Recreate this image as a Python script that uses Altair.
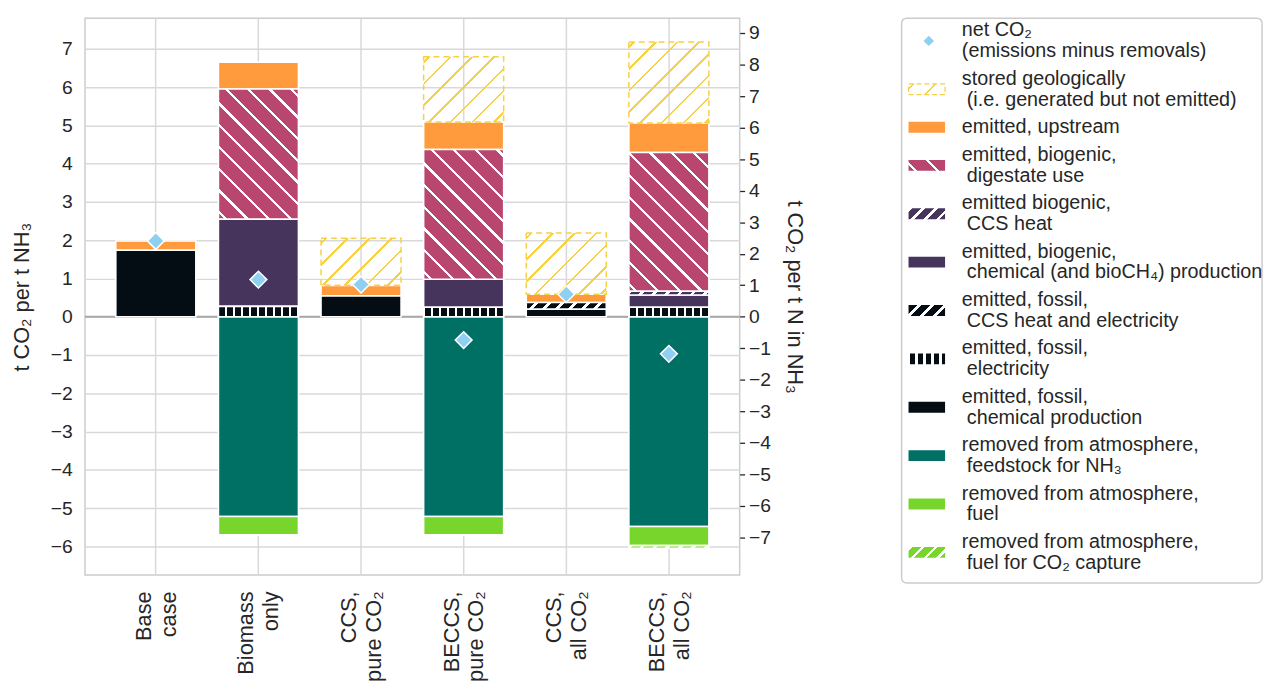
import altair as alt
import pandas as pd

# ---------------- data ----------------
categories = ["Base\ncase", "Biomass\nonly", "CCS,\npure CO₂",
              "BECCS,\npure CO₂", "CCS,\nall CO₂", "BECCS,\nall CO₂"]

fossil_chem = [1.74, 0.00, 0.55, 0.00, 0.20, 0.00]
fossil_elec = [0.00, 0.27, 0.00, 0.25, 0.00, 0.25]
fossil_ccs = [0.00, 0.00, 0.00, 0.00, 0.17, 0.00]
bio_chem = [0.00, 2.28, 0.00, 0.73, 0.00, 0.32]
bio_ccs = [0.00, 0.00, 0.00, 0.00, 0.00, 0.10]
digestate = [0.00, 3.40, 0.00, 3.39, 0.00, 3.62]
upstream = [0.24, 0.70, 0.27, 0.72, 0.22, 0.77]
stored = [0.00, 0.00, 1.23, 1.70, 1.60, 2.12]
feedstock = [0.00, -5.22, 0.00, -5.22, 0.00, -5.48]
fuel = [0.00, -0.48, 0.00, -0.48, 0.00, -0.50]
fuel_capture = [0.00, 0.00, 0.00, 0.00, 0.00, -0.07]
net = [1.98, 0.97, 0.84, -0.61, 0.59, -0.97]

legend_keys = ["net", "stored", "upstream", "digestate", "bio_ccs", "bio_chem",
               "fossil_ccs", "fossil_elec", "fossil_chem", "feedstock", "fuel",
               "fuel_capture"]
legend_first = [
    "net CO₂", "stored geologically", "emitted, upstream", "emitted, biogenic,",
    "emitted biogenic,", "emitted, biogenic,", "emitted, fossil,",
    "emitted, fossil,", "emitted, fossil,", "removed from atmosphere,",
    "removed from atmosphere,", "removed from atmosphere,",
]
legend_second = [
    "(emissions minus removals)", "(i.e. generated but not emitted)", "",
    "digestate use", "CCS heat", "chemical (and bioCH₄) production",
    "CCS heat and electricity", "electricity", "chemical production",
    "feedstock for NH₃", "fuel", "fuel for CO₂ capture",
]

values = {
    "fossil_chem": fossil_chem, "fossil_elec": fossil_elec, "fossil_ccs": fossil_ccs,
    "bio_chem": bio_chem, "bio_ccs": bio_ccs, "digestate": digestate,
    "upstream": upstream, "stored": stored, "feedstock": feedstock,
    "fuel": fuel, "fuel_capture": fuel_capture,
}
pos_order = ["fossil_chem", "fossil_elec", "fossil_ccs", "bio_chem", "bio_ccs",
             "digestate", "upstream", "stored"]
neg_order = ["feedstock", "fuel", "fuel_capture"]

# ---------------- styles ----------------
FONT = "Liberation Sans"
TXT = "#262626"
BLACK = "#040d13"
PURPLE = "#46345d"
PINK = "#b8466e"
ORANGE = "#ff9b3d"
YELLOW = "#f6d146"
TEAL = "#006f64"
GREEN = "#78d52c"
DIAMOND = "#8ecff2"

STYLE = {
    "fossil_chem": {"color": BLACK},
    "fossil_elec": {"pattern": ("v", 8.1, 0.74, BLACK, "white", 1.0)},
    "fossil_ccs": {"pattern": ("/", 13, 0.70, BLACK, "white", 0.0)},
    "bio_chem": {"color": PURPLE},
    "bio_ccs": {"pattern": ("/", 13, 0.28, "white", PURPLE, 0.0)},
    "digestate": {"pattern": ("\\", 22, 0.15, "white", PINK, 6.0)},
    "upstream": {"color": ORANGE},
    "stored": {"pattern": ("/", 22, 0.12, YELLOW, "transparent", 4.0),
               "stroke": YELLOW, "dash": [6, 4]},
    "feedstock": {"color": TEAL},
    "fuel": {"color": GREEN},
    "fuel_capture": {"pattern": ("/", 13, 0.28, "white", GREEN, 0.0)},
}

W, H = 663, 564
YMIN, YMAX = -6.75, 7.80
R = 17.0 / 14.0
P_IN, P_OUT = 0.22, 0.30
STEP = W / (len(categories) - P_IN + 2 * P_OUT)
BW = STEP * (1 - P_IN)
PXU = H / (YMAX - YMIN)


def hatch(kind, w, h, period, on_frac, on_col, off_col, phase):
    """Linear gradient (objectBoundingBox) emulating a hatch pattern."""
    h = max(h, 0.5)
    if kind == "v":
        x1, y1, x2, y2, span = 0, 0, 1, 0, w
    else:
        c = (w + h) / (w * w + h * h)
        span = w + h
        if kind == "/":
            x1, y1, x2, y2 = 0, 0, w * c, h * c
        else:
            x1, y1, x2, y2 = 0, 1, w * c, 1 - h * c
    on_len = on_frac * period
    trans = []
    k = -2
    while k * period + phase < span + period:
        s = k * period + phase
        e = s + on_len
        if 0 < s < span:
            trans.append((s, True))
        if 0 < e < span:
            trans.append((e, False))
        k += 1
    trans.sort()
    state = ((0 - phase) % period) < on_len
    stops = [{"offset": 0, "color": on_col if state else off_col}]
    for t, new_state in trans:
        o = round(t / span, 5)
        stops.append({"offset": o, "color": on_col if state else off_col})
        stops.append({"offset": o, "color": on_col if new_state else off_col})
        state = new_state
    stops.append({"offset": 1, "color": on_col if state else off_col})
    return {"gradient": "linear", "x1": x1, "y1": y1, "x2": x2, "y2": y2,
            "stops": stops}


# ---------------- tables ----------------
rows = []
for i, cat in enumerate(categories):
    top = 0.0
    for key in pos_order:
        v = values[key][i]
        if v > 0:
            rows.append({"cat": cat, "series": key, "y0": top, "y1": top + v,
                         "rid": f"{key}_{i}"})
            top += v
    bot = 0.0
    for key in neg_order:
        v = values[key][i]
        if v < 0:
            rows.append({"cat": cat, "series": key, "y0": bot, "y1": bot + v,
                         "rid": f"{key}_{i}"})
            bot += v
seg = pd.DataFrame(rows)
net_df = pd.DataFrame({"cat": categories, "net": net,
                       "net_n": [v * R for v in net]})

# ---------------- main panel ----------------
x_axis = alt.Axis(labelExpr="split(datum.label, '\\n')", labelAngle=-90,
                  labelAlign="right", labelBaseline="middle", labelLineHeight=25,
                  labelOffset=-12, labelFontSize=22, labelColor=TXT, labelPadding=16,
                  ticks=False, domain=False, grid=True, gridColor="#d9d9d9",
                  gridWidth=1.5, bandPosition=0.5, title=None)
y_axis = alt.Axis(values=list(range(-6, 8)), format="d", grid=True,
                  gridColor="#d9d9d9", gridWidth=1.5, ticks=False, domain=False,
                  labelFontSize=19.5, labelColor=TXT, labelPadding=13,
                  title="t CO₂ per t NH₃", titleFontSize=22, titleFontWeight="normal",
                  titleColor=TXT, titlePadding=17)
r_axis = alt.Axis(orient="right", values=list(range(-7, 10)), format="d", grid=False,
                  ticks=True, tickSize=5, tickWidth=1.3, tickColor=TXT, domain=False,
                  labelFontSize=19.5, labelColor=TXT, labelPadding=4,
                  title="t CO₂ per t N in NH₃", titleFontSize=22,
                  titleFontWeight="normal", titleColor=TXT, titlePadding=12)

xenc = alt.X("cat:N", sort=categories,
             scale=alt.Scale(paddingInner=P_IN, paddingOuter=P_OUT), axis=x_axis)
yscale = alt.Scale(domain=[YMIN, YMAX], nice=False, zero=False)

zero_line = alt.Chart(pd.DataFrame({"zero": [0.0]})).mark_rule(
    color="#a8a8a8", strokeWidth=2).encode(
    y=alt.Y("zero:Q", scale=yscale, axis=y_axis))

solid_keys = [k for k in pos_order + neg_order if "pattern" not in STYLE[k]]
base = alt.Chart(seg).transform_filter(
    alt.FieldOneOfPredicate(field="series", oneOf=solid_keys)
).mark_bar(stroke="white", strokeWidth=1.6).encode(
    x=xenc,
    y=alt.Y("y0:Q", scale=yscale, axis=y_axis),
    y2="y1:Q",
    fill=alt.Fill("series:N", scale=alt.Scale(
        domain=solid_keys, range=[STYLE[k]["color"] for k in solid_keys]), legend=None),
)

hatch_layers = []
for _, r in seg.iterrows():
    st = STYLE[r["series"]]
    if "pattern" not in st:
        continue
    kind, period, on_frac, on_col, off_col, phase = st["pattern"]
    grad = hatch(kind, BW, abs(r["y1"] - r["y0"]) * PXU, period, on_frac,
                 on_col, off_col, phase)
    mk = {"fill": grad, "stroke": st.get("stroke", "white"),
          "strokeWidth": 1.5 if "stroke" in st else 1.6}
    if "dash" in st:
        mk["strokeDash"] = st["dash"]
    hatch_layers.append(
        alt.Chart(seg).transform_filter(alt.datum.rid == r["rid"]).mark_bar(**mk).encode(
            x=xenc, y=alt.Y("y0:Q", scale=yscale, axis=y_axis), y2="y1:Q"))

diamonds = alt.Chart(net_df).mark_point(
    shape="diamond", filled=True, fill=DIAMOND, stroke="white", strokeWidth=1.5,
    size=290, opacity=1).encode(
    x=xenc, y=alt.Y("net:Q", scale=yscale, axis=y_axis))

inner = alt.layer(zero_line, base, *hatch_layers, diamonds)

right = alt.Chart(net_df).mark_point(opacity=0).encode(
    x=xenc,
    y=alt.Y("net_n:Q", scale=alt.Scale(domain=[YMIN * R, YMAX * R], nice=False,
                                        zero=False), axis=r_axis))

main = alt.layer(inner, right).resolve_scale(y="independent").properties(
    width=W, height=H)

# ---------------- legend panel ----------------
LEG_W, LEG_H = 365, 572
LH, GAP = 21, 7
centers, c = [], -1.5
for s2 in legend_second:
    hh = (2 if s2 else 1) * LH + GAP
    centers.append(c + hh / 2)
    c += hh
leg = pd.DataFrame({
    "key": legend_keys, "line1": legend_first, "line2": legend_second,
    "yc": centers,
    "y1": [v - LH / 2 if s2 else v for v, s2 in zip(centers, legend_second)],
    "y2": [v + LH / 2 for v in centers],
    "ya": [v - 5.5 for v in centers], "yb": [v + 5.5 for v in centers]})
lscale = alt.Scale(domain=[LEG_H, 0], nice=False, zero=False)
SX0, SX1 = 7, 44
TX = 61
text_props = dict(align="left", baseline="middle", fontSize=20, color=TXT)

leg_text1 = alt.Chart(leg).mark_text(**text_props).encode(
    x=alt.value(TX), y=alt.Y("y1:Q", scale=lscale, axis=None), text="line1:N")
leg_text2a = alt.Chart(leg).transform_filter(alt.datum.key == "net").mark_text(
    **text_props).encode(
    x=alt.value(TX), y=alt.Y("y2:Q", scale=lscale, axis=None), text="line2:N")
leg_text2b = alt.Chart(leg).transform_filter(
    (alt.datum.key != "net") & (alt.datum.line2 != "")).mark_text(**text_props).encode(
    x=alt.value(TX + 5), y=alt.Y("y2:Q", scale=lscale, axis=None), text="line2:N")

leg_solid_keys = [k for k in legend_keys if k in STYLE and "pattern" not in STYLE[k]]
leg_solid = alt.Chart(leg).transform_filter(
    alt.FieldOneOfPredicate(field="key", oneOf=leg_solid_keys)
).mark_rect().encode(
    x=alt.value(SX0), x2=alt.value(SX1),
    y=alt.Y("ya:Q", scale=lscale, axis=None), y2="yb:Q",
    fill=alt.Fill("key:N", scale=alt.Scale(
        domain=leg_solid_keys, range=[STYLE[k]["color"] for k in leg_solid_keys]),
        legend=None))

leg_hatch = []
for k in legend_keys:
    if k not in STYLE or "pattern" not in STYLE[k]:
        continue
    st = STYLE[k]
    kind, period, on_frac, on_col, off_col, phase = st["pattern"]
    grad = hatch(kind, SX1 - SX0, 11, period, on_frac, on_col, off_col, phase)
    mk = {"fill": grad}
    if "stroke" in st:
        mk.update(stroke=st["stroke"], strokeWidth=1.3, strokeDash=[5, 3])
    leg_hatch.append(
        alt.Chart(leg).transform_filter(alt.datum.key == k).mark_rect(**mk).encode(
            x=alt.value(SX0), x2=alt.value(SX1),
            y=alt.Y("ya:Q", scale=lscale, axis=None), y2="yb:Q"))

leg_diamond = alt.Chart(leg).transform_filter(alt.datum.key == "net").mark_point(
    shape="diamond", filled=True, fill=DIAMOND, size=110, opacity=1).encode(
    x=alt.value((SX0 + SX1) / 2 + 2), y=alt.Y("yc:Q", scale=lscale, axis=None))

legend = alt.layer(leg_solid, *leg_hatch, leg_diamond, leg_text1, leg_text2a,
                   leg_text2b).properties(
    width=LEG_W, height=LEG_H,
    view=alt.ViewBackground(stroke="#cccccc", strokeWidth=1.5, cornerRadius=5))

chart = alt.hconcat(main, legend, spacing=96).properties(
    padding={"left": 2, "top": 5, "right": 0, "bottom": 0}
).configure(font=FONT).configure_view(stroke="#cccccc", strokeWidth=1.5)

chart.save("out.html", embed_options={"renderer": "svg", "actions": False})
